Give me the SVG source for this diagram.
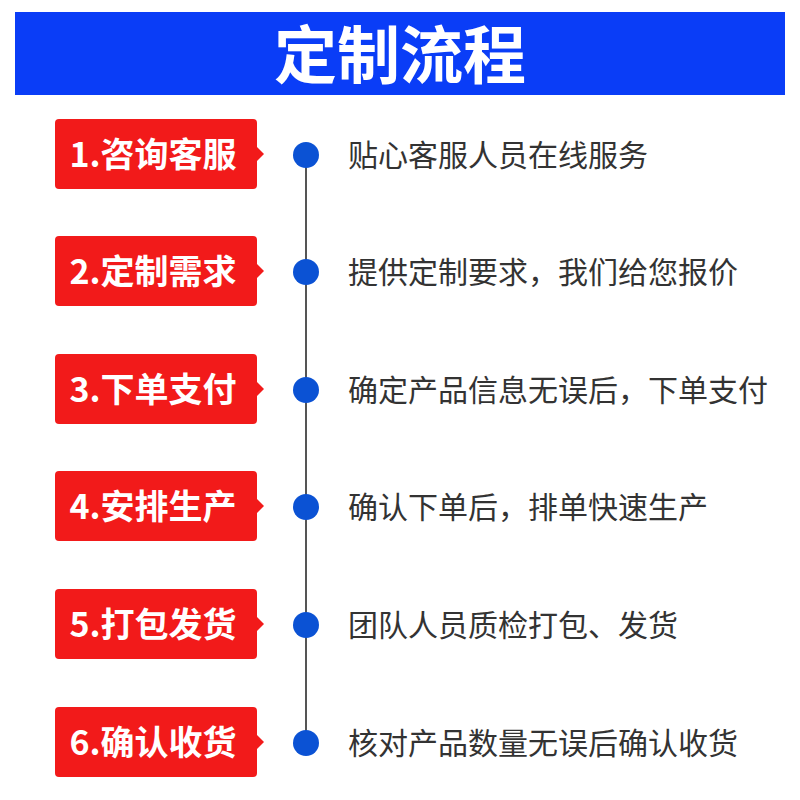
<svg xmlns="http://www.w3.org/2000/svg" width="800" height="800" viewBox="0 0 800 800">
<style>
.title{font-family:"Noto Sans CJK SC","Noto Sans",sans-serif;font-weight:bold;font-size:63px;fill:#fff}
.lab{font-family:"Noto Sans CJK SC","Noto Sans",sans-serif;font-weight:bold;font-size:34px;fill:#fff}
.desc{font-family:"Noto Sans CJK SC","Noto Sans",sans-serif;font-size:30px;fill:#333}
.box{fill:#f21a1a}
.dot{fill:#0b52d4}
</style>
<defs>
<g id="tag"><rect x="55" y="-36" width="202" height="70" rx="4" class="box"/><polygon points="256,-9 264,-1 256,7" class="box"/></g>
</defs>
<rect x="0" y="0" width="800" height="800" fill="#fff"/>
<g id="header"><rect x="15" y="12" width="770" height="83" fill="#0a3df7"/><text x="400" y="78" text-anchor="middle" class="title">定制流程</text></g>
<g id="connectors"><line x1="306" y1="155" x2="306" y2="743" stroke="#555" stroke-width="2"/></g>
<g id="step1" transform="translate(0,155)"><use href="#tag"/><text x="153" y="12" text-anchor="middle" class="lab">1.咨询客服</text><circle cx="306" cy="0" r="13" class="dot"/><text x="348" y="11" class="desc">贴心客服人员在线服务</text></g>
<g id="step2" transform="translate(0,272)"><use href="#tag"/><text x="153" y="12" text-anchor="middle" class="lab">2.定制需求</text><circle cx="306" cy="0" r="13" class="dot"/><text x="348" y="11" class="desc">提供定制要求，我们给您报价</text></g>
<g id="step3" transform="translate(0,390)"><use href="#tag"/><text x="153" y="12" text-anchor="middle" class="lab">3.下单支付</text><circle cx="306" cy="0" r="13" class="dot"/><text x="348" y="11" class="desc">确定产品信息无误后，下单支付</text></g>
<g id="step4" transform="translate(0,507)"><use href="#tag"/><text x="153" y="12" text-anchor="middle" class="lab">4.安排生产</text><circle cx="306" cy="0" r="13" class="dot"/><text x="348" y="11" class="desc">确认下单后，排单快速生产</text></g>
<g id="step5" transform="translate(0,625)"><use href="#tag"/><text x="153" y="12" text-anchor="middle" class="lab">5.打包发货</text><circle cx="306" cy="0" r="13" class="dot"/><text x="348" y="11" class="desc">团队人员质检打包、发货</text></g>
<g id="step6" transform="translate(0,743)"><use href="#tag"/><text x="153" y="12" text-anchor="middle" class="lab">6.确认收货</text><circle cx="306" cy="0" r="13" class="dot"/><text x="348" y="11" class="desc">核对产品数量无误后确认收货</text></g>
</svg>
